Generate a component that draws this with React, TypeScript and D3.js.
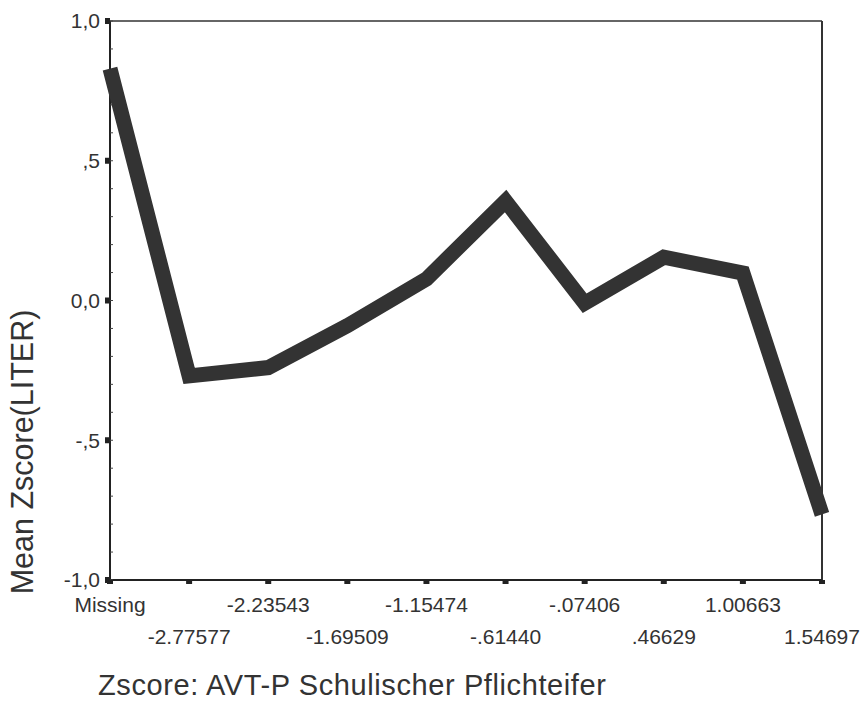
import React from "react";
import * as d3 from "d3";

const categories = ["Missing", "-2.77577", "-2.23543", "-1.69509", "-1.15474", "-.61440", "-.07406", ".46629", "1.00663", "1.54697"];
const meanValues = [0.83, -0.27, -0.24, -0.09, 0.077, 0.356, -0.01, 0.155, 0.098, -0.765];
const yTicks = [1.0, 0.5, 0.0, -0.5, -1.0];
const yTickLabels = ["1,0", ",5", "0,0", "-,5", "-1,0"];
const xTitle = "Zscore:  AVT-P Schulischer Pflichteifer";
const yTitle = "Mean Zscore(LITER)";

export default function App() {
  const W = 864, H = 714;
  const left = 110, right = 822, top = 21, bottom = 580;
  const x = d3.scalePoint<string>().domain(categories).range([left, right]).padding(0);
  const y = d3.scaleLinear().domain([-1, 1]).range([bottom, top]);
  const line = d3.line<number>().x((_, i) => x(categories[i])!).y((d) => y(d));
  const font = "Liberation Sans, Arial, sans-serif";
  const minor = d3.range(-1, 1.0001, 0.1);
  return (
    <svg width={W} height={H} style={{ position: "absolute", left: 0, top: 0, background: "#fff" }} fontFamily={font}>
      <rect x={0} y={0} width={W} height={H} fill="#fff" />
      <line x1={left} y1={top} x2={right} y2={top} stroke="#666" strokeWidth={2} />
      <line x1={right} y1={top} x2={right} y2={bottom} stroke="#333" strokeWidth={2} />
      <line x1={left} y1={top} x2={left} y2={bottom} stroke="#222" strokeWidth={2} />
      <line x1={left} y1={bottom} x2={right} y2={bottom} stroke="#222" strokeWidth={2} />
      {minor.map((v, i) => (
        <line key={"m" + i} x1={left} x2={left + 3} y1={y(v)} y2={y(v)} stroke="#444" strokeWidth={1} />
      ))}
      {yTicks.map((v, i) => (
        <g key={"y" + i}>
          <rect x={left - 5} y={y(v) - 3} width={5} height={6} fill="#222" />
          <text x={left - 10} y={y(v)} dy="0.35em" textAnchor="end" fontSize={21} fill="#333">{yTickLabels[i]}</text>
        </g>
      ))}
      {categories.map((c, i) => (
        <g key={"x" + i}>
          <rect x={x(c)! - 3} y={bottom} width={6} height={4} fill="#222" />
          <text x={x(c)!} y={i % 2 === 0 ? 612 : 644} textAnchor="middle" fontSize={21} fill="#333">{c}</text>
        </g>
      ))}
      <path d={line(meanValues)!} fill="none" stroke="#333" strokeWidth={15} strokeLinejoin="miter" strokeMiterlimit={2} />
      <text x={98} y={695} fontSize={29} letterSpacing={0.6} fill="#333">{xTitle}</text>
      <text transform={`translate(33, 452) rotate(-90)`} textAnchor="middle" fontSize={30.5} fill="#333">{yTitle}</text>
    </svg>
  );
}
